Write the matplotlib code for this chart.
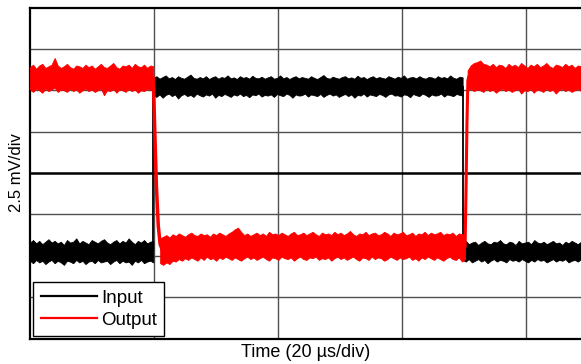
import numpy as np
import matplotlib
matplotlib.use("Agg")
import matplotlib.pyplot as plt
from matplotlib.lines import Line2D

plt.rcParams['font.family'] = ['Liberation Sans', 'DejaVu Sans']
plt.rcParams['axes.facecolor'] = 'white'
plt.rcParams['figure.facecolor'] = 'white'

# time in us, amplitude in mV (scope: 20 us/div, 2.5 mV/div)
x_max = 88.9

# input (black): noise band per segment -> (start, end, upper edge, lower edge)
in_a = (0.0, 19.9,
        [-4.20, -4.05, -4.25, -4.10, -4.30, -4.15, -4.00, -4.20, -4.10, -4.25,
         -4.15, -4.35, -4.05, -4.20, -4.15, -3.95, -4.25, -4.10, -4.20, -4.30,
         -4.05, -4.15, -4.25, -4.10, -4.00, -4.20, -4.30, -4.15, -4.05, -4.25,
         -4.10, -4.20, -3.95, -4.15, -4.30, -4.10, -4.20, -4.05, -4.25, -4.15,
         -4.10],
        [-5.30, -5.45, -5.25, -5.40, -5.30, -5.50, -5.35, -5.25, -5.45, -5.30,
         -5.40, -5.55, -5.30, -5.35, -5.45, -5.25, -5.40, -5.30, -5.50, -5.35,
         -5.30, -5.45, -5.25, -5.40, -5.35, -5.30, -5.50, -5.35, -5.25, -5.45,
         -5.30, -5.40, -5.35, -5.55, -5.30, -5.40, -5.25, -5.45, -5.35, -5.30,
         -5.40])
in_b = (19.9, 69.8,
        [5.75, 5.85, 5.70, 5.80, 5.90, 5.72, 5.80, 5.68, 5.85, 5.75,
         5.70, 5.82, 5.95, 5.75, 5.70, 5.80, 5.72, 5.85, 5.68, 5.78,
         5.85, 5.70, 5.80, 5.75, 5.90, 5.72, 5.78, 5.68, 5.85, 5.75,
         5.80, 5.70, 5.88, 5.75, 5.72, 5.82, 5.70, 5.78, 5.85, 5.70,
         5.75, 5.90, 5.72, 5.80, 5.68, 5.78, 5.85, 5.72, 5.80, 5.75,
         5.70, 5.85, 5.75, 5.68, 5.80, 5.92, 5.75, 5.70, 5.82, 5.75,
         5.70, 5.80, 5.85, 5.72, 5.78, 5.70, 5.88, 5.75, 5.80, 5.68,
         5.78, 5.85, 5.72, 5.80, 5.75, 5.70, 5.85, 5.78, 5.70, 5.82,
         5.75, 5.90, 5.70, 5.78, 5.80, 5.72, 5.85, 5.75, 5.70, 5.80,
         5.78, 5.70, 5.85, 5.75, 5.80, 5.72, 5.90, 5.75, 5.70, 5.82,
         5.78],
        [4.70, 4.60, 4.75, 4.55, 4.72, 4.80, 4.65, 4.75, 4.50, 4.70,
         4.78, 4.65, 4.72, 4.60, 4.80, 4.70, 4.62, 4.75, 4.68, 4.80,
         4.55, 4.72, 4.65, 4.78, 4.70, 4.60, 4.75, 4.68, 4.80, 4.65,
         4.72, 4.58, 4.75, 4.70, 4.80, 4.62, 4.72, 4.68, 4.75, 4.60,
         4.78, 4.70, 4.65, 4.80, 4.72, 4.55, 4.75, 4.68, 4.70, 4.80,
         4.62, 4.75, 4.70, 4.65, 4.78, 4.60, 4.72, 4.80, 4.68, 4.75,
         4.60, 4.70, 4.78, 4.65, 4.75, 4.55, 4.72, 4.68, 4.80, 4.62,
         4.75, 4.70, 4.65, 4.78, 4.72, 4.60, 4.75, 4.80, 4.68, 4.70,
         4.62, 4.75, 4.72, 4.58, 4.78, 4.70, 4.65, 4.80, 4.72, 4.60,
         4.75, 4.68, 4.70, 4.80, 4.62, 4.75, 4.70, 4.65, 4.78, 4.72,
         4.68])
in_c = (69.8, 88.9,
        [-4.25, -4.10, -4.30, -4.20, -4.15, -4.35, -4.20, -4.10, -4.25, -4.30,
         -4.15, -4.20, -4.05, -4.25, -4.30, -4.15, -4.20, -4.35, -4.10, -4.25,
         -4.20, -4.15, -4.30, -4.05, -4.20, -4.25, -4.15, -4.30, -4.20, -4.10,
         -4.25, -4.20, -4.35, -4.15, -4.25, -4.10, -4.20, -4.30, -4.15],
        [-5.25, -5.35, -5.20, -5.40, -5.30, -5.20, -5.35, -5.25, -5.45, -5.30,
         -5.20, -5.35, -5.25, -5.30, -5.40, -5.20, -5.30, -5.25, -5.35, -5.20,
         -5.30, -5.40, -5.25, -5.35, -5.20, -5.30, -5.25, -5.40, -5.30, -5.20,
         -5.35, -5.25, -5.30, -5.20, -5.40, -5.30, -5.25, -5.35, -5.20])
in_edges = [19.9, 69.8]
in_low, in_high = -4.7, 5.25

# output (red)
out_a = (0.0, 19.9,
         [6.40, 6.55, 6.30, 6.50, 6.60, 6.35, 6.45, 6.55, 6.95, 6.50,
          6.35, 6.45, 6.60, 6.40, 6.30, 6.50, 6.45, 6.35, 6.55, 6.40,
          6.50, 6.30, 6.45, 6.60, 6.40, 6.35, 6.50, 6.65, 6.40, 6.30,
          6.50, 6.45, 6.55, 6.35, 6.60, 6.45, 6.40, 6.55, 6.35, 6.50,
          6.45],
         [5.05, 4.90, 5.10, 5.00, 4.85, 5.10, 4.95, 5.05, 5.15, 4.90,
          5.05, 5.00, 4.90, 5.10, 4.95, 5.05, 4.85, 5.00, 5.10, 4.95,
          5.05, 4.90, 5.00, 5.10, 4.70, 5.00, 4.95, 5.10, 4.85, 5.05,
          5.00, 4.90, 5.10, 4.95, 5.05, 4.85, 5.00, 4.95, 5.10, 5.00,
          5.05])
out_b = (21.0, 70.2,
         [-3.95, -3.85, -3.75, -3.90, -3.70, -3.80, -3.65, -3.75, -3.85, -3.70,
          -3.60, -3.75, -3.80, -3.65, -3.75, -3.70, -3.85, -3.65, -3.75, -3.60,
          -3.70, -3.80, -3.65, -3.55, -3.40, -3.30, -3.55, -3.75, -3.65, -3.80,
          -3.70, -3.60, -3.75, -3.65, -3.80, -3.55, -3.70, -3.65, -3.75, -3.60,
          -3.70, -3.80, -3.65, -3.55, -3.75, -3.70, -3.60, -3.75, -3.65, -3.55,
          -3.70, -3.80, -3.60, -3.70, -3.65, -3.75, -3.55, -3.70, -3.60, -3.75,
          -3.65, -3.50, -3.70, -3.80, -3.65, -3.70, -3.55, -3.75, -3.65, -3.60,
          -3.75, -3.70, -3.55, -3.65, -3.80, -3.60, -3.70, -3.65, -3.55, -3.75,
          -3.70, -3.60, -3.80, -3.65, -3.70, -3.55, -3.75, -3.60, -3.70, -3.65,
          -3.55, -3.75, -3.65, -3.70, -3.60, -3.80, -3.65, -3.70, -3.75],
         [-5.45, -5.55, -5.40, -5.50, -5.30, -5.35, -5.20, -5.30, -5.15, -5.25,
          -5.10, -5.20, -5.30, -5.10, -5.25, -5.05, -5.20, -5.15, -5.30, -5.10,
          -5.20, -5.05, -5.15, -5.25, -5.10, -5.20, -5.30, -5.15, -5.05, -5.20,
          -5.10, -5.25, -5.15, -5.05, -5.20, -5.30, -5.10, -5.15, -5.25, -5.05,
          -5.15, -5.20, -5.10, -5.30, -5.15, -5.05, -5.20, -5.25, -5.10, -5.15,
          -5.05, -5.25, -5.15, -5.20, -5.10, -5.30, -5.15, -5.05, -5.20, -5.10,
          -5.25, -5.15, -5.05, -5.20, -5.30, -5.10, -5.15, -5.25, -5.05, -5.20,
          -5.10, -5.15, -5.30, -5.20, -5.05, -5.15, -5.25, -5.10, -5.20, -5.15,
          -5.05, -5.25, -5.15, -5.30, -5.10, -5.20, -5.05, -5.15, -5.25, -5.10,
          -5.20, -5.30, -5.15, -5.05, -5.20, -5.25, -5.10, -5.35, -5.20])
out_c = (70.6, 88.9,
         [6.20, 6.50, 6.65, 6.70, 6.80, 6.60, 6.55, 6.45, 6.60, 6.40,
          6.55, 6.50, 6.35, 6.60, 6.45, 6.55, 6.40, 6.65, 6.50, 6.35,
          6.55, 6.45, 6.60, 6.40, 6.50, 6.65, 6.45, 6.35, 6.55, 6.50,
          6.40, 6.60, 6.45, 6.55, 6.35, 6.50, 6.45],
         [5.00, 5.10, 4.95, 5.05, 5.00, 4.90, 5.10, 4.95, 5.05, 4.85,
          5.00, 5.10, 4.95, 5.05, 4.90, 5.00, 5.10, 4.80, 5.00, 4.95,
          5.10, 4.85, 5.05, 5.00, 4.90, 5.10, 4.95, 5.05, 4.80, 5.00,
          5.10, 4.95, 5.05, 4.90, 5.00, 5.10, 4.95])
out_fall_t = [19.9, 20.1, 20.4, 20.7, 21.0, 21.3]
out_fall_v = [5.7, 3.0, -0.8, -3.2, -4.3, -4.6]
out_rise_t = [70.2, 70.35, 70.5, 70.65, 70.8]
out_rise_v = [-4.4, -1.0, 3.0, 5.6, 5.8]


def band(ax, seg, color, z):
    t0, t1, hi, lo = seg
    t = np.linspace(t0, t1, len(hi))
    ax.fill_between(t, lo, hi, color=color, lw=0.6, zorder=z)


fig = plt.figure(figsize=(5.81, 3.64), dpi=100)
ax = fig.add_axes([0.0516, 0.070, 0.9484, 0.9093])

ax.set_xlim(0, x_max)
ax.set_ylim(-10, 10)
ax.set_xticks([20, 40, 60, 80])
ax.set_yticks([-7.5, -5, -2.5, 2.5, 5, 7.5])
ax.tick_params(length=0, labelbottom=False, labelleft=False)
ax.grid(color='#505050', lw=1.0, zorder=0)
ax.set_axisbelow(True)
ax.axhline(0, color='black', lw=1.8, zorder=1)

for seg in (in_a, in_b, in_c):
    band(ax, seg, 'black', 2)
ax.vlines(in_edges, in_low, in_high, color='black', lw=1.3, zorder=2)

for seg in (out_a, out_b, out_c):
    band(ax, seg, 'red', 3)
ax.plot(out_fall_t, out_fall_v, color='red', lw=2.5, zorder=3)
ax.plot(out_rise_t, out_rise_v, color='red', lw=2.2, zorder=3)

for s in ['left', 'top', 'bottom']:
    ax.spines[s].set_linewidth(1.6)
    ax.spines[s].set_color('black')
ax.spines['right'].set_visible(False)

ax.set_xlabel("Time (20 µs/div)", fontsize=13, labelpad=4)
ax.set_ylabel("2.5 mV/div", fontsize=12, labelpad=4)

handles = [Line2D([], [], color='black', lw=1.6, label='Input'),
           Line2D([], [], color='red', lw=1.6, label='Output')]
leg = ax.legend(handles=handles, loc='lower left', bbox_to_anchor=(0.006, 0.007),
                fontsize=13.5, fancybox=False, framealpha=1, edgecolor='black',
                handlelength=3.0, handletextpad=0.2, borderpad=0.4,
                labelspacing=0.25, borderaxespad=0)
leg.get_frame().set_linewidth(1.0)
leg.set_zorder(5)

plt.savefig("out.png", dpi=100)
